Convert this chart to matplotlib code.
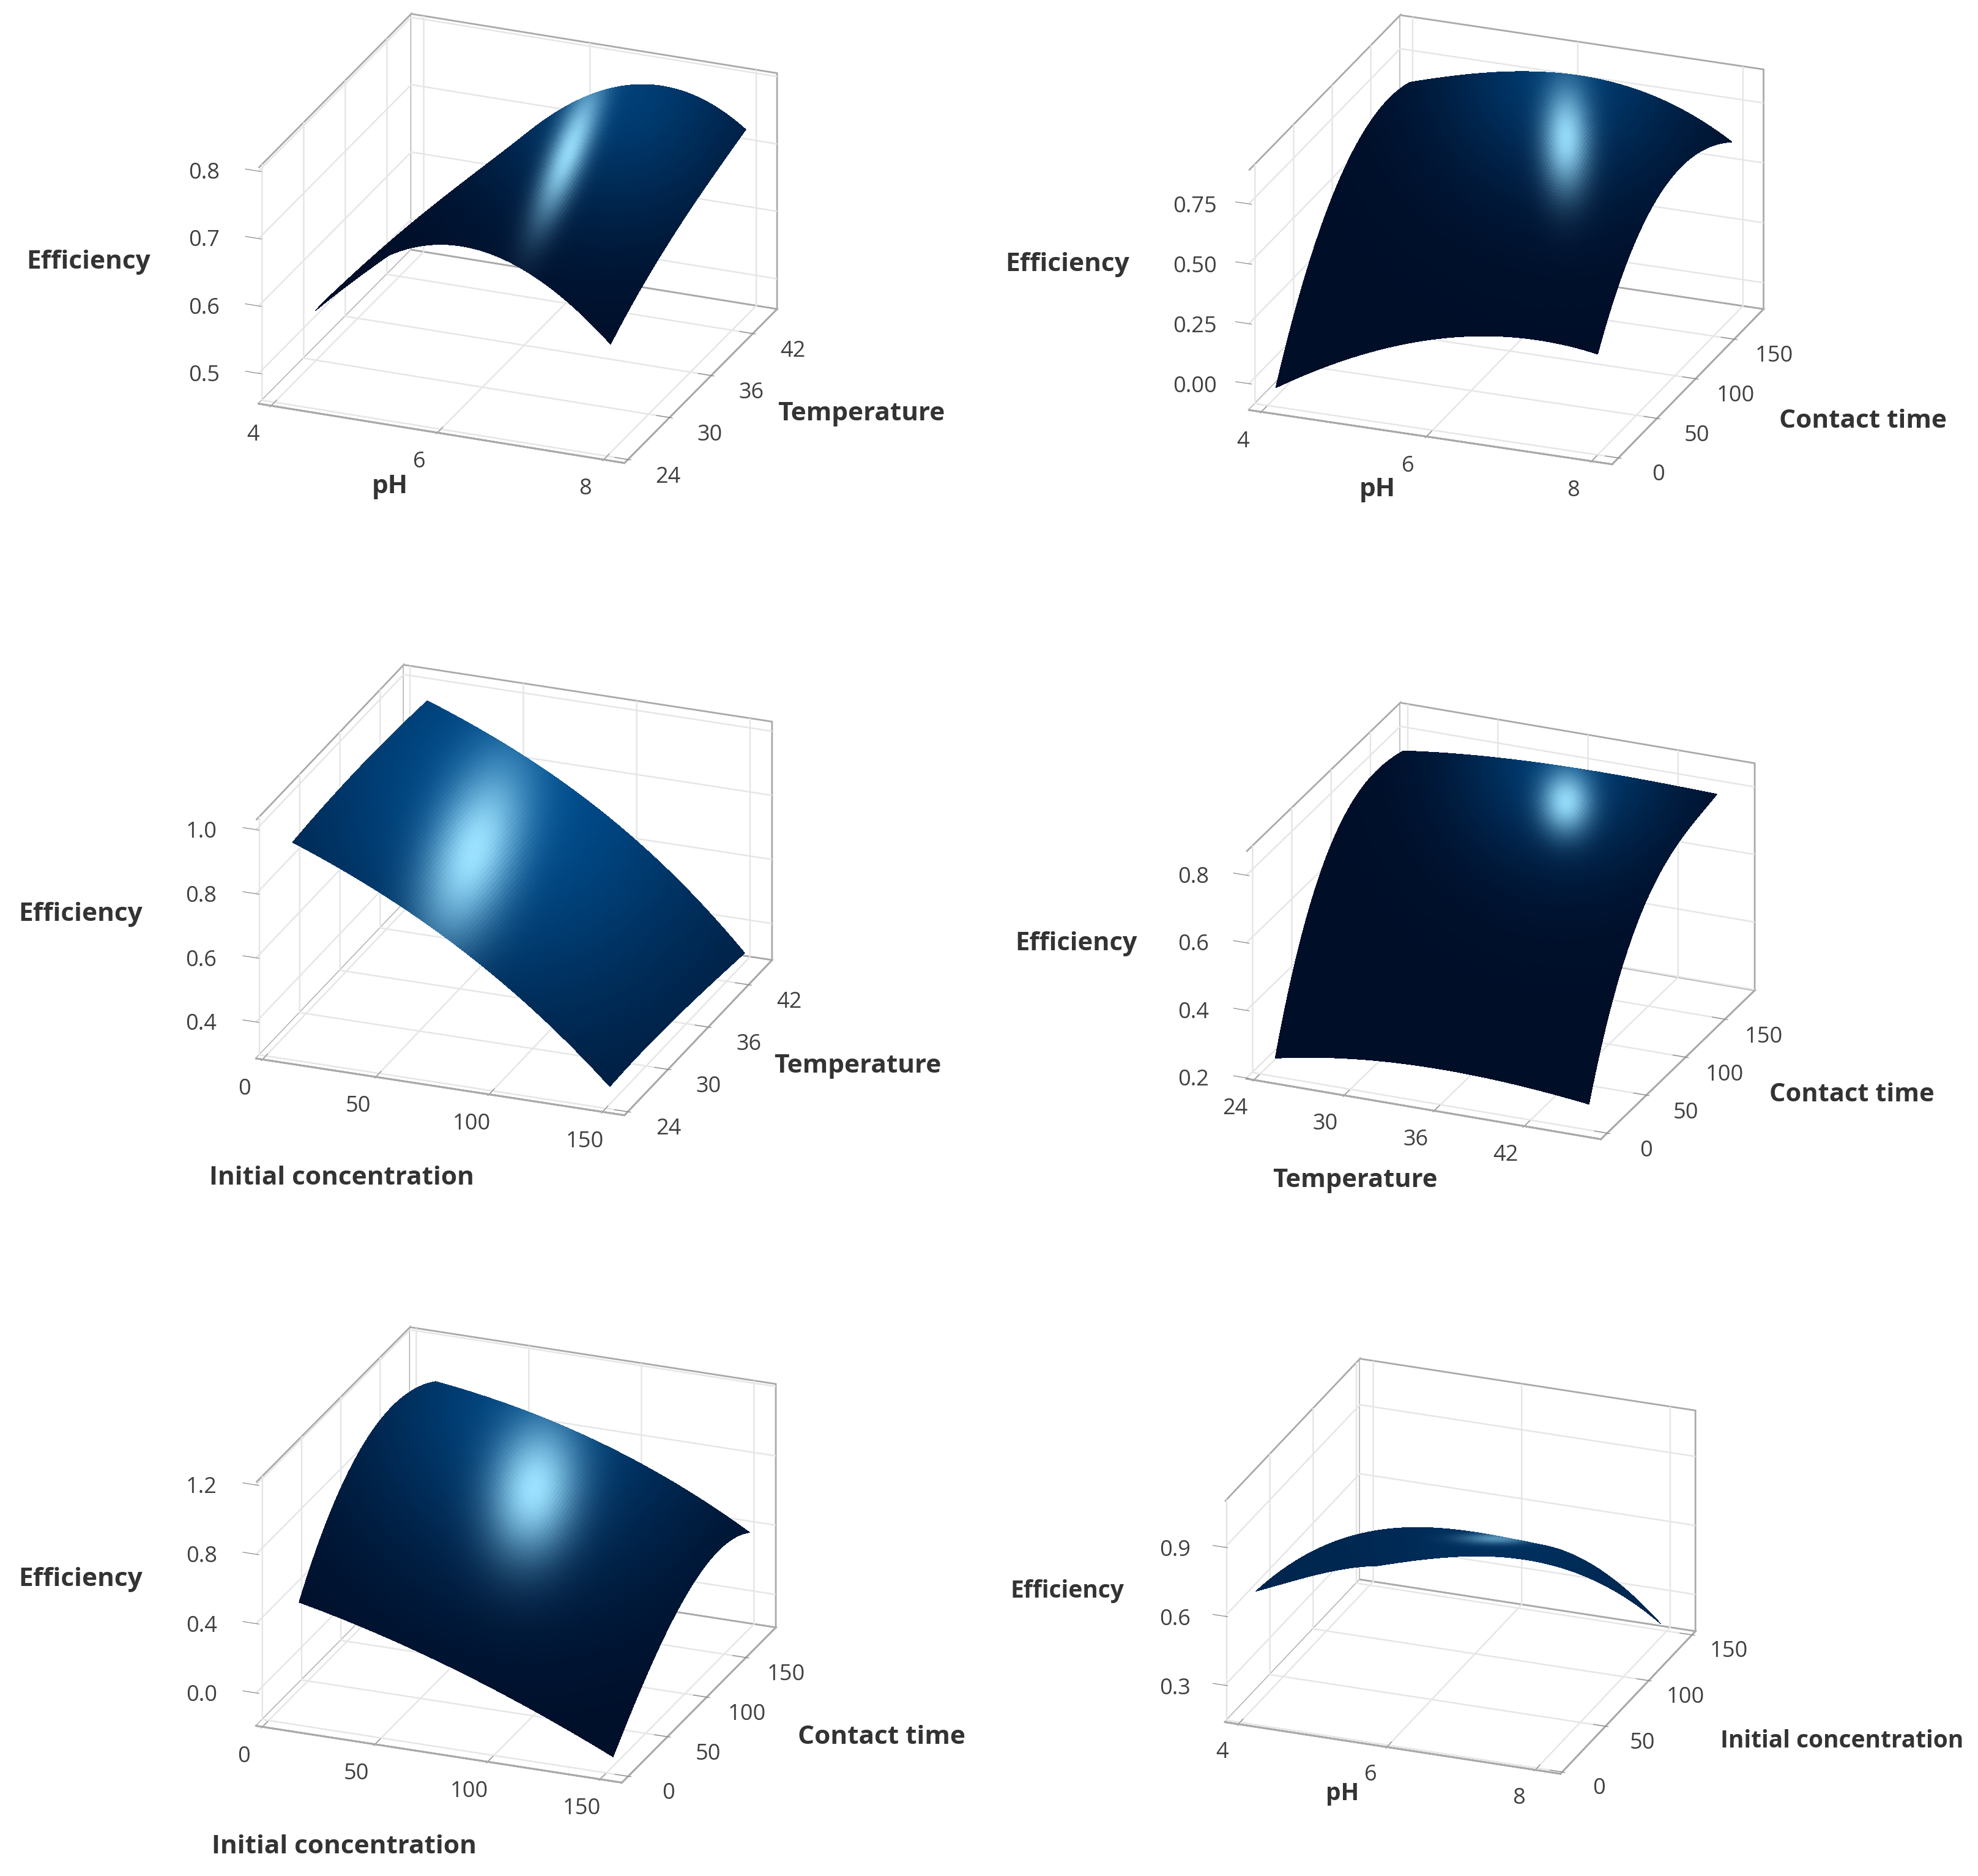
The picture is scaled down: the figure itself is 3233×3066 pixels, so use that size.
import numpy as np
import matplotlib
matplotlib.use("Agg")
import matplotlib.pyplot as plt
from matplotlib.transforms import Affine2D
from mpl_toolkits.mplot3d import proj3d

plt.rcParams['font.family'] = ['Open Sans', 'DejaVu Sans']

# ---------- data (rows follow y, columns follow x) ----------
ph_a = [4.45, 5.3, 6.2, 7.1, 8.0]
temp_a = [24.5, 29, 34, 39, 44]
eff_1 = [[.595, .690, .728, .695, .616],
         [.585, .695, .745, .725, .655],
         [.570, .690, .750, .750, .685],
         [.555, .678, .755, .765, .712],
         [.540, .665, .752, .775, .732]]

ph_b = [4.1, 5.2, 6.0, 7.0, 8.0]
time_b = [0, 40, 85, 130, 174]
eff_2 = [[-.03, .17, .27, .33, .31],
         [.32, .50, .60, .65, .58],
         [.58, .72, .80, .82, .72],
         [.68, .80, .84, .82, .72],
         [.67, .77, .80, .77, .62]]

conc_c = [10, 47.6, 83.3, 119, 150]
temp_c = [24.6, 29.5, 34.5, 39.5, 44.7]
eff_3 = [[.95, .84, .70, .53, .34],
         [.96, .85, .72, .54, .345],
         [.965, .855, .725, .54, .34],
         [.96, .85, .72, .535, .33],
         [.95, .84, .705, .52, .315]]

temp_d = [25.0, 30.6, 35.3, 40.5, 45.9]
time_d = [0, 37, 80, 119, 163]
eff_4 = [[.252, .29, .304, .295, .274],
         [.56, .59, .60, .59, .56],
         [.75, .77, .78, .76, .73],
         [.81, .83, .84, .83, .80],
         [.795, .82, .83, .83, .825]]

conc_e = [13.5, 46, 83, 119, 153]
time_e = [0, 41, 86, 129, 174]
eff_5 = [[.52, .42, .27, .10, -.09],
         [.86, .75, .60, .40, .17],
         [1.07, .97, .80, .62, .40],
         [1.10, 1.00, .86, .68, .48],
         [1.00, .93, .81, .63, .41]]

ph_f = [4.18, 5.18, 6.08, 6.98, 8.0]
conc_f = [3, 37, 73, 107, 143]
eff_6 = [[.705, .975, 1.06, 1.12, 1.10],
         [.605, .84, .91, .96, .92],
         [.50, .70, .76, .79, .72],
         [.39, .55, .60, .60, .47],
         [.26, .354, .38, .36, .20]]

# ---------- layout and style, in px of the 1568 wide view ----------
SC = 3233 / 1568
W, H = 3233, 3066
DARK = np.array([0, 14, 40]) / 255
BLUE = np.array([0, 95, 170]) / 255
LIGHT = np.array([155, 225, 255]) / 255
LABEL_SHIFT = (.125, .115, .155)   # tick label distance, share of the crossing axis range
LABEL_LIFT = (4, 8, 12)            # tick labels raised, in output px

panels = [
    dict(x=ph_a, y=temp_a, z=eff_1, xl=(3.85, 8.25), yl=(23.5, 45.5), zl=(.455, .805),
         xt=[4, 6, 8], yt=[24, 30, 36, 42], zt=[.5, .6, .7, .8], zf='%.1f', fs=30.5,
         A=(205, 320), B=(495, 367), C=(616, 245), T=(200, 133),
         labs=[('Efficiency', 70, 208), ('pH', 309, 386), ('Temperature', 683, 328)],
         spot=(450, 120, 42, 10, 68, .95), lobe=(485, 62, 80, .62), base=0.0),
    dict(x=ph_b, y=time_b, z=eff_2, xl=(3.85, 8.25), yl=(-8, 188), zl=(-.11, .89),
         xt=[4, 6, 8], yt=[0, 50, 100, 150], zt=[0, .25, .5, .75], zf='%.2f', fs=30.5,
         A=(990, 325), B=(1278, 368), C=(1398, 245), T=(985, 135),
         labs=[('Efficiency', 846, 210), ('pH', 1092, 388), ('Contact time', 1477, 334)],
         spot=(1240, 110, 30, 13, 90, .95), lobe=(1240, 50, 70, .58), base=0.0),
    dict(x=conc_c, y=temp_c, z=eff_3, xl=(-2.8, 159.7), yl=(23.5, 45.5), zl=(.286, 1.03),
         xt=[0, 50, 100, 150], yt=[24, 30, 36, 42], zt=[.4, .6, .8, 1.], zf='%.1f', fs=30.5,
         A=(203, 839), B=(495, 884), C=(612, 761), T=(196, 650),
         labs=[('Efficiency', 64, 725), ('Initial concentration', 271, 934), ('Temperature', 680, 845)],
         spot=(374, 675, 52, 24, 70, 1.0), lobe=(405, 625, 125, .68), base=.12),
    dict(x=temp_d, y=time_d, z=eff_4, xl=(23.5, 47.1), yl=(-8, 188), zl=(.198, .87),
         xt=[24, 30, 36, 42], yt=[0, 50, 100, 150], zt=[.2, .4, .6, .8], zf='%.1f', fs=30,
         A=(988, 855), B=(1269, 903), C=(1391, 785), T=(982, 675),
         labs=[('Efficiency', 853, 748), ('Temperature', 1074, 936), ('Contact time', 1468, 868)],
         spot=(1240, 636, 18, 14, 90, .95), lobe=(1240, 600, 60, .6), base=0.0),
    dict(x=conc_e, y=time_e, z=eff_5, xl=(-2.8, 159.7), yl=(-8, 188), zl=(-.19, 1.215),
         xt=[0, 50, 100, 150], yt=[0, 50, 100, 150], zt=[0, .4, .8, 1.2], zf='%.1f', fs=30.5,
         A=(203, 1368), B=(493, 1413), C=(615, 1290), T=(197, 1175),
         labs=[('Efficiency', 64, 1252), ('Initial concentration', 273, 1464), ('Contact time', 699, 1377)],
         spot=(422, 1180, 38, 24, 80, 1.0), lobe=(420, 1110, 100, .68), base=0.0),
    dict(x=ph_f, y=conc_f, z=eff_6, xl=(3.82, 8.34), yl=(-2, 154), zl=(.14, 1.10),
         xt=[4, 6, 8], yt=[0, 50, 100, 150], zt=[.3, .6, .9], zf='%.1f', fs=28,
         A=(971, 1365), B=(1237, 1406), C=(1344, 1293), T=(966, 1190),
         labs=[('Efficiency', 846, 1261), ('pH', 1064, 1422), ('Initial concentration', 1460, 1380)],
         spot=(1185, 1219, 20, 3, 0, .55), lobe=(1190, 1215, 60, .12), base=.3),
]


def smooth_mesh(xs, ys, zz, n=110, deg=3):
    xs, ys, zz = np.asarray(xs, float), np.asarray(ys, float), np.asarray(zz, float)
    sx = (xs - xs[0]) / (xs[-1] - xs[0])
    sy = (ys - ys[0]) / (ys[-1] - ys[0])
    t = np.linspace(0, 1, n)
    a = np.array([np.polyval(np.polyfit(sx, row, deg), t) for row in zz])
    b = np.array([np.polyval(np.polyfit(sy, col, deg), t) for col in a.T]).T
    gx, gy = np.meshgrid(xs[0] + t * (xs[-1] - xs[0]), ys[0] + t * (ys[-1] - ys[0]))
    return gx, gy, b


def solve_view(A, B, C, T):
    xr, xu = B[0] - A[0], A[1] - B[1]
    yr, yu = C[0] - B[0], B[1] - C[1]
    zh = A[1] - T[1]
    p, q = -xu / xr, yu / yr
    se = np.sqrt(p * q)
    e = np.arcsin(se)
    a = np.arctan(q / se)
    return np.degrees(e), -np.degrees(a), (xr / np.sin(a), yr / np.cos(a), zh / np.cos(e))


fig = plt.figure(figsize=(W / 100, H / 100), dpi=100, facecolor='white')

for p in panels:
    S = 1000.0
    ax = fig.add_axes([.1, .1, S / W, S / H], projection='3d')
    ax.patch.set_visible(False)
    el, az, box = solve_view(p['A'], p['B'], p['C'], p['T'])
    ax.set_proj_type('ortho')
    ax.view_init(elev=el, azim=az)
    ax.set_box_aspect(box)
    ax.set_xlim(*p['xl']); ax.set_ylim(*p['yl']); ax.set_zlim(*p['zl'])

    def corner_px(cx, cy, cz):
        ax.apply_aspect()
        xp, yp, _ = proj3d.proj_transform(cx, cy, cz, ax.get_proj())
        return ax.transData.transform(np.column_stack([np.atleast_1d(xp), np.atleast_1d(yp)]))

    # fit the axes so that the box lands on the wanted corners
    for _ in range(3):
        a_ = corner_px(p['xl'][0], p['yl'][0], p['zl'][0])[0]
        b_ = corner_px(p['xl'][1], p['yl'][0], p['zl'][0])[0]
        target = (p['B'][0] - p['A'][0]) * SC
        S *= target / (b_[0] - a_[0])
        ax.set_position([.1, .1, S / W, S / H])
    a_ = corner_px(p['xl'][0], p['yl'][0], p['zl'][0])[0]
    want = np.array([p['A'][0] * SC, H - p['A'][1] * SC])
    l = .1 + (want[0] - a_[0]) / W
    b = .1 + (want[1] - a_[1]) / H
    ax.set_position([l, b, S / W, S / H])

    X, Y, Z = smooth_mesh(p['x'], p['y'], p['z'])
    px = corner_px(X.ravel(), Y.ravel(), Z.ravel())
    sx_ = px[:, 0].reshape(X.shape) / SC
    sy_ = (H - px[:, 1]).reshape(X.shape) / SC

    cx, cy, sl, ss, ang, amp = p['spot']
    th = np.radians(ang)
    dx, dy = sx_ - cx, -(sy_ - cy)
    al = dx * np.cos(th) + dy * np.sin(th)
    ac = -dx * np.sin(th) + dy * np.cos(th)
    narrow = amp * np.exp(-.5 * ((al / sl) ** 2 + (ac / ss) ** 2))
    lx, ly, ls, lamp = p['lobe']
    wide = np.clip(p['base'] + lamp * np.exp(-.5 * (((sx_ - lx) ** 2 + (sy_ - ly) ** 2) / ls ** 2)), 0, 1)
    rgb = DARK + wide[..., None] * (BLUE - DARK)
    rgb = rgb + narrow[..., None] * (LIGHT - rgb)
    rgba = np.dstack([np.clip(rgb, 0, 1), np.ones_like(Z)])

    ax.plot_surface(X, Y, Z, facecolors=rgba, rstride=1, cstride=1, shade=False,
                    linewidth=0, antialiased=False)

    ax.set_xticks(p['xt']); ax.set_yticks(p['yt']); ax.set_zticks(p['zt'])
    ax.set_zticklabels([p['zf'] % v for v in p['zt']])
    ax.set_xlim(*p['xl']); ax.set_ylim(*p['yl']); ax.set_zlim(*p['zl'])

    pts = 72 * (S + S) / 100
    masks = ([False, True, False], [True, False, False], [True, False, False])
    for axis, shift, mask, lift in zip((ax.xaxis, ax.yaxis, ax.zaxis), LABEL_SHIFT, masks, LABEL_LIFT):
        axis.set_pane_color((1, 1, 1, 1))
        axis.pane.set_edgecolor('#a9a9a9')
        axis.pane.set_linewidth(2.0)
        axis.line.set_color('#a9a9a9')
        axis.line.set_linewidth(2.0)
        axis._axinfo['grid'].update(color='#e6e6e6', linewidth=1.8)
        axis._axinfo['tick'].update(inward_factor=.1, outward_factor=.45, color='#808080')
        axis._axmask = (lambda m: (lambda: list(m)))(mask)
        axis.set_tick_params(labelsize=26, labelcolor='#404040', pad=shift * pts / 4 - 8,
                             color='#808080', width=1.6)
        for tk in axis.get_major_ticks():
            tk.label1.set_transform(tk.label1.get_transform() + Affine2D().translate(0, lift))
    ax.zaxis._axinfo['juggled'] = (1, 0, 2)

    for txt, tx, ty in p['labs']:
        fig.text(tx * SC / W, 1 - ty * SC / H, txt, ha='center', va='center',
                 fontsize=p['fs'], fontweight='bold', color='#333333')

fig.savefig('out.png', dpi=100, facecolor='white')
